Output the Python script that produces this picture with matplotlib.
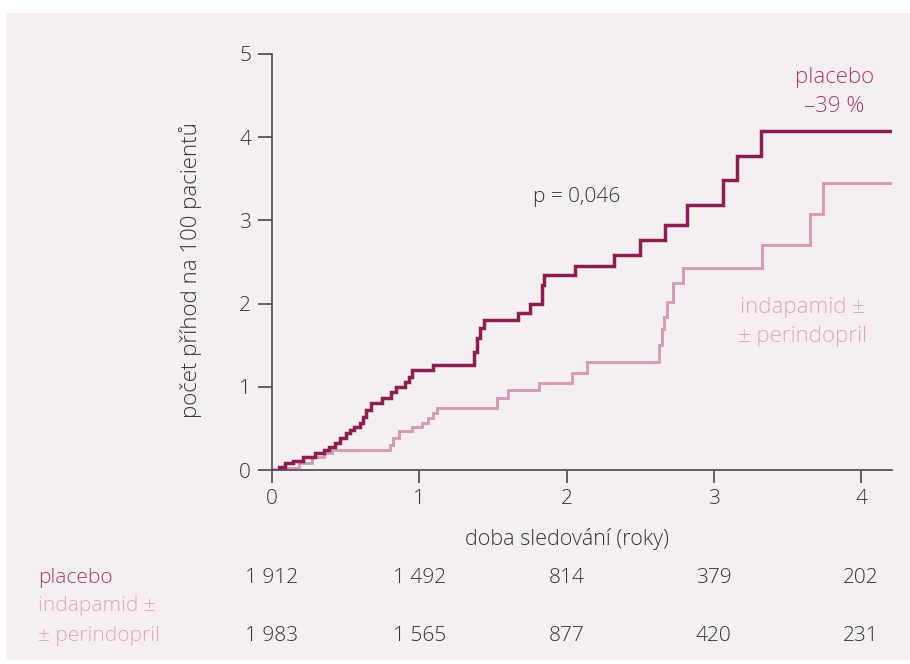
import matplotlib
matplotlib.use("Agg")
import matplotlib.pyplot as plt

plt.rcParams['font.family'] = ['Open Sans', 'DejaVu Sans']
plt.rcParams['font.weight'] = 'light'
plt.rcParams['axes.labelweight'] = 'light'

# ---- data ----
placebo_t = [0.00, 0.02, 0.05, 0.09, 0.14, 0.21, 0.29, 0.35, 0.39, 0.43, 0.46, 0.50,
             0.53, 0.56, 0.60, 0.62, 0.64, 0.67, 0.75, 0.81, 0.84, 0.90, 0.93, 0.95,
             1.06, 1.09, 1.37, 1.39, 1.41, 1.44, 1.67, 1.75, 1.83, 1.85, 2.06, 2.32,
             2.50, 2.67, 2.82, 3.06, 3.16, 3.32, 4.20]
placebo_y = [0.00, 0.00, 0.04, 0.08, 0.11, 0.16, 0.20, 0.24, 0.28, 0.32, 0.38, 0.44,
             0.48, 0.52, 0.56, 0.64, 0.72, 0.80, 0.86, 0.94, 1.00, 1.06, 1.12, 1.20,
             1.20, 1.26, 1.42, 1.59, 1.71, 1.80, 1.89, 2.00, 2.22, 2.34, 2.45, 2.58,
             2.76, 2.94, 3.18, 3.49, 3.77, 4.07, 4.07]

indap_t = [0.00, 0.05, 0.09, 0.18, 0.27, 0.35, 0.41, 0.79, 0.80, 0.82, 0.86, 0.95,
           1.02, 1.06, 1.09, 1.12, 1.53, 1.60, 1.81, 2.04, 2.14, 2.63, 2.645, 2.66,
           2.68, 2.72, 2.79, 3.33, 3.65, 3.74, 4.20]
indap_y = [0.00, 0.00, 0.03, 0.08, 0.16, 0.20, 0.24, 0.24, 0.30, 0.38, 0.47, 0.52,
           0.56, 0.62, 0.68, 0.75, 0.86, 0.96, 1.04, 1.17, 1.30, 1.50, 1.70, 1.84,
           2.02, 2.25, 2.43, 2.70, 3.08, 3.45, 3.45]

x_ticks = [0, 1, 2, 3, 4]
y_ticks = [0, 1, 2, 3, 4, 5]
at_risk_placebo = ["1 912", "1 492", "814", "379", "202"]
at_risk_indap = ["1 983", "1 565", "877", "420", "231"]

# ---- style ----
BG = "#f6eff2"
DARK = "#8a1f50"
LIGHT = "#d49cb6"
LABEL_DARK = "#a43c70"
LABEL_LIGHT = "#dba6bf"
TXT = "#333333"
AX = "#555555"
FS = 15
W = "light"

fig = plt.figure(figsize=(9.10, 6.64), dpi=100)
fig.patch.set_facecolor("white")
fig.patches.append(plt.Rectangle((7 / 910, 4 / 664), 1 - 7 / 910, 1 - 17 / 664,
                                 transform=fig.transFigure, facecolor=BG,
                                 edgecolor="none", zorder=-10))

ax = fig.add_axes([272 / 910, (664 - 470) / 664, 620 / 910, 416 / 664])
ax.set_facecolor("none")

ax.step(indap_t, indap_y, where="post", color=LIGHT, lw=2.1, solid_joinstyle="miter", zorder=2)
ax.step(placebo_t, placebo_y, where="post", color=DARK, lw=2.5, solid_joinstyle="miter", zorder=3)

ax.set_xlim(0, 4.21)
ax.set_ylim(0, 5)
ax.set_xticks(x_ticks)
ax.set_yticks(y_ticks)
for s in ("top", "right"):
    ax.spines[s].set_visible(False)
for s in ("left", "bottom"):
    ax.spines[s].set_color(AX)
    ax.spines[s].set_linewidth(1.3)
ax.tick_params(axis="both", colors=AX, width=1.3, labelcolor=TXT, labelsize=FS)
ax.tick_params(axis="x", length=9, pad=5)
ax.tick_params(axis="y", length=10, pad=5)
for lab in ax.get_xticklabels() + ax.get_yticklabels():
    lab.set_fontweight(W)

ax.set_xlabel("doba sledování (roky)", fontsize=15.5, color=TXT, fontweight=W)
ax.xaxis.set_label_coords(2 / 4.21, -0.139)
ax.set_ylabel("počet příhod na 100 pacientů", fontsize=16, color=TXT, fontweight=W)
ax.yaxis.set_label_coords(-0.113, 0.48)

# annotations
ax.text(2.07, 3.28, "p = 0,046", fontsize=FS, color=TXT, ha="center", va="center", fontweight=W)
ax.text(3.82, 4.72, "placebo", fontsize=16, color=LABEL_DARK, ha="center", va="center", fontweight=W)
ax.text(3.82, 4.37, "–39 %", fontsize=16, color=LABEL_DARK, ha="center", va="center", fontweight=W)
ax.text(3.60, 1.95, "indapamid ±", fontsize=16, color=LABEL_LIGHT, ha="center", va="center", fontweight=W)
ax.text(3.60, 1.60, "± perindopril", fontsize=16, color=LABEL_LIGHT, ha="center", va="center", fontweight=W)

# numbers at risk
trans = ax.get_xaxis_transform()
fig.text(38 / 910, 1 - 578 / 664, "placebo", fontsize=FS, color=LABEL_DARK, ha="left", va="center", fontweight=W)
fig.text(38 / 910, 1 - 606 / 664, "indapamid ±", fontsize=FS, color=LABEL_LIGHT, ha="left", va="center", fontweight=W)
fig.text(38 / 910, 1 - 636 / 664, "± perindopril", fontsize=FS, color=LABEL_LIGHT, ha="left", va="center", fontweight=W)
y1 = (578 - 470) / -416.0
y2 = (636 - 470) / -416.0
for xt, a, b in zip(x_ticks, at_risk_placebo, at_risk_indap):
    ax.text(xt, y1, a, transform=trans, fontsize=FS, color=TXT, ha="center", va="center",
            clip_on=False, fontweight=W)
    ax.text(xt, y2, b, transform=trans, fontsize=FS, color=TXT, ha="center", va="center",
            clip_on=False, fontweight=W)

fig.savefig("out.png", dpi=100, facecolor=fig.get_facecolor())
